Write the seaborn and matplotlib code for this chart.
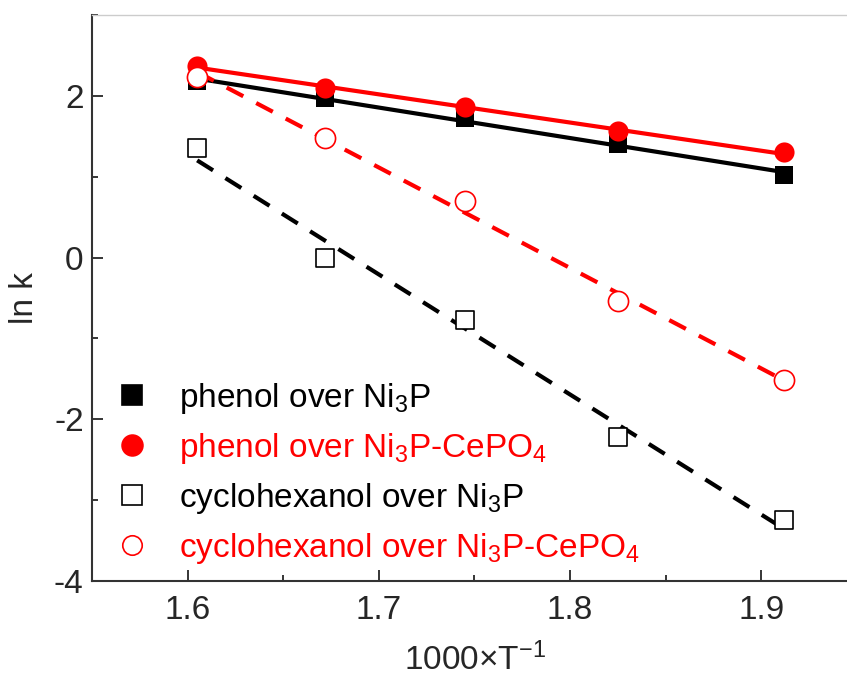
import numpy as np
import pandas as pd
import seaborn as sns
import matplotlib.pyplot as plt
from matplotlib.ticker import MultipleLocator
from matplotlib.lines import Line2D

# Data (x = 1000/T, y = ln k)
inv_T = [1.605, 1.672, 1.745, 1.825, 1.912]
phenol_ni3p = [2.18, 1.97, 1.72, 1.41, 1.02]
phenol_ni3p_cepo4 = [2.37, 2.10, 1.86, 1.56, 1.30]
cyclohex_ni3p = [1.35, 0.00, -0.77, -2.22, -3.25]
cyclohex_ni3p_cepo4 = [2.23, 1.48, 0.70, -0.54, -1.52]

labels = ['phenol over Ni$_3$P',
          'phenol over Ni$_3$P-CePO$_4$',
          'cyclohexanol over Ni$_3$P',
          'cyclohexanol over Ni$_3$P-CePO$_4$']

df = pd.DataFrame({
    'x': inv_T * 4,
    'lnk': phenol_ni3p + phenol_ni3p_cepo4 + cyclohex_ni3p + cyclohex_ni3p_cepo4,
    'series': np.repeat(labels, len(inv_T)),
})

sns.set_style('ticks')
plt.rcParams['font.family'] = ['Liberation Sans', 'DejaVu Sans']
plt.rcParams['mathtext.default'] = 'regular'
plt.rcParams['axes.unicode_minus'] = False

# marker / line style for each series
styles = {
    labels[0]: dict(color='black', marker='s', filled=True, ls='-', ms=13),
    labels[1]: dict(color='red', marker='o', filled=True, ls='-', ms=14.5),
    labels[2]: dict(color='black', marker='s', filled=False, ls='--', ms=13),
    labels[3]: dict(color='red', marker='o', filled=False, ls='--', ms=14.5),
}

fig = plt.figure(figsize=(8.47, 6.82), dpi=100)
ax = fig.add_axes([0.1086, 0.1481, 0.9032, 0.8299])

# linear fits first, markers on top
for name, st in styles.items():
    sub = df[df['series'] == name]
    line_kws = dict(color=st['color'], lw=3, zorder=2)
    if st['ls'] == '--':
        line_kws['dashes'] = (4.5, 3.5)
    sns.regplot(data=sub, x='x', y='lnk', ax=ax, scatter=False, ci=None,
                truncate=True, line_kws=line_kws)

for name, st in styles.items():
    sub = df[df['series'] == name]
    if st['filled']:
        sns.scatterplot(data=sub, x='x', y='lnk', ax=ax, marker=st['marker'],
                        s=st['ms'] ** 2, color=st['color'], edgecolor=st['color'],
                        linewidth=0, zorder=3)
    else:
        sns.scatterplot(data=sub, x='x', y='lnk', ax=ax, marker=st['marker'],
                        s=st['ms'] ** 2, facecolor='white', edgecolor=st['color'],
                        linewidth=1.2, zorder=3)

ax.set_xlim(1.55, 1.95)
ax.set_ylim(-4, 3)
ax.xaxis.set_major_locator(MultipleLocator(0.1))
ax.xaxis.set_minor_locator(MultipleLocator(0.05))
ax.yaxis.set_major_locator(MultipleLocator(2))
ax.yaxis.set_minor_locator(MultipleLocator(1))
ax.set_yticks([-4, -2, 0, 2])
ax.tick_params(which='major', direction='in', length=8, width=1.3, labelsize=24,
               top=False, right=False)
ax.tick_params(which='minor', direction='in', length=4, width=1.3,
               top=False, right=False)
ax.tick_params(axis='x', pad=10)
ax.tick_params(axis='y', pad=6)

ax.set_xlabel('1000×T$^{-1}$', fontsize=24, labelpad=12)
ax.set_ylabel('ln k', fontsize=24, labelpad=10)

for s in ['left', 'bottom']:
    ax.spines[s].set_linewidth(1.5)
    ax.spines[s].set_color('#333333')
ax.spines['top'].set_color('#cccccc')
ax.spines['top'].set_linewidth(1)
ax.spines['right'].set_visible(False)

handles = []
for name, st in styles.items():
    handles.append(Line2D([], [], ls='none', marker=st['marker'],
                          ms=15 if st['filled'] else 14,
                          mfc=st['color'] if st['filled'] else 'white',
                          mec=st['color'], mew=1.2))
ax.legend(handles, labels, loc='lower left', bbox_to_anchor=(0.011, 0.0),
          frameon=False, fontsize=24, labelcolor=[s['color'] for s in styles.values()],
          handlelength=1.0, handletextpad=0.9, labelspacing=0.45, borderaxespad=0.05)

fig.savefig('out.png', dpi=100)
